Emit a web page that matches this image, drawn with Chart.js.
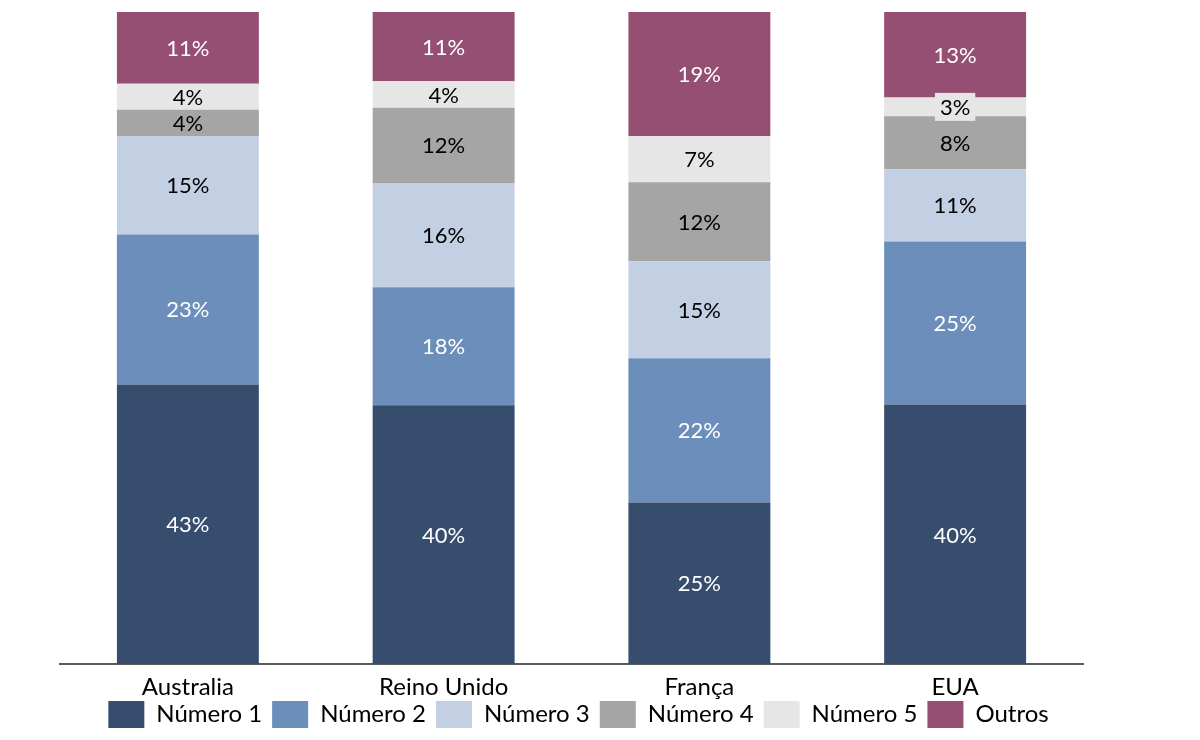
<!DOCTYPE html>
<html>
<head>
<meta charset="utf-8">
<script src="https://cdn.jsdelivr.net/npm/chart.js@4/dist/chart.umd.min.js"></script>
<style>
  html, body { margin: 0; padding: 0; background: #ffffff; }
  #wrap { width: 1200px; height: 740px; position: relative; }
</style>
</head>
<body>
<div id="wrap"><canvas id="c"></canvas></div>
<script>
const categories = ['Australia', 'Reino Unido', 'França', 'EUA'];
const seriesNames = ['Número 1', 'Número 2', 'Número 3', 'Número 4', 'Número 5', 'Outros'];
const numero1 = [42.9, 39.7, 24.8, 39.8];
const numero2 = [23.0, 18.1, 22.1, 25.0];
const numero3 = [15.1, 16.0, 14.9, 11.1];
const numero4 = [4.0, 11.5, 12.1, 8.1];
const numero5 = [4.0, 4.1, 7.1, 2.9];
const outros  = [11.0, 10.6, 19.0, 13.1];

const seriesValues = [numero1, numero2, numero3, numero4, numero5, outros];
const colors = ['#374D6E', '#6C8EBA', '#C3CFE2', '#A5A5A5', '#E7E6E6', '#954F72'];
const labelColors = ['#FFFFFF', '#FFFFFF', '#000000', '#000000', '#000000', '#FFFFFF'];

const FONT = 'Lato, "Open Sans", sans-serif';

const valueLabels = {
  id: 'valueLabels',
  afterDatasetsDraw(chart) {
    const ctx = chart.ctx;
    ctx.save();
    ctx.font = '22px ' + FONT;
    ctx.textAlign = 'center';
    ctx.textBaseline = 'middle';
    chart.data.datasets.forEach((ds, di) => {
      const meta = chart.getDatasetMeta(di);
      meta.data.forEach((bar, i) => {
        const p = bar.getProps(['x', 'y', 'base'], true);
        const mid = (p.y + p.base) / 2;
        const h = Math.abs(p.base - p.y);
        const txt = Math.round(ds.data[i]) + '%';
        if (h < 22) {
          const w = ctx.measureText(txt).width + 10;
          ctx.fillStyle = colors[di];
          ctx.fillRect(p.x - w / 2, mid - 14, w, 28);
        }
        ctx.fillStyle = labelColors[di];
        ctx.fillText(txt, p.x, mid + 1);
      });
    });
    ctx.restore();
  }
};

// pull the legend up so it sits tight under the category labels
const legendShift = {
  id: 'legendShift',
  afterLayout(chart) {
    const lg = chart.legend;
    if (!lg) return;
    lg.top -= 20; lg.bottom -= 20;
    lg.left += 7; lg.right += 7;
  }
};

new Chart(document.getElementById('c'), {
  type: 'bar',
  data: {
    labels: categories,
    datasets: seriesNames.map((name, k) => ({
      label: name,
      data: seriesValues[k],
      backgroundColor: colors[k],
      borderWidth: 0,
      categoryPercentage: 1,
      barPercentage: 0.555
    }))
  },
  options: {
    responsive: true,
    maintainAspectRatio: false,
    animation: false,
    layout: { padding: { left: 60, right: 117, top: 12, bottom: -18 } },
    plugins: {
      tooltip: { enabled: false },
      legend: {
        position: 'bottom',
        labels: {
          boxWidth: 36,
          boxHeight: 27,
          padding: 10,
          color: '#000000',
          font: { family: FONT, size: 24 }
        }
      }
    },
    scales: {
      x: {
        stacked: true,
        grid: { display: false, drawTicks: false },
        border: { display: true, color: '#595959', width: 2 },
        ticks: { color: '#000000', font: { family: FONT, size: 24 }, padding: 9 }
      },
      y: {
        stacked: true,
        display: false,
        min: 0,
        max: 100
      }
    }
  },
  plugins: [valueLabels, legendShift]
});
</script>
</body>
</html>
